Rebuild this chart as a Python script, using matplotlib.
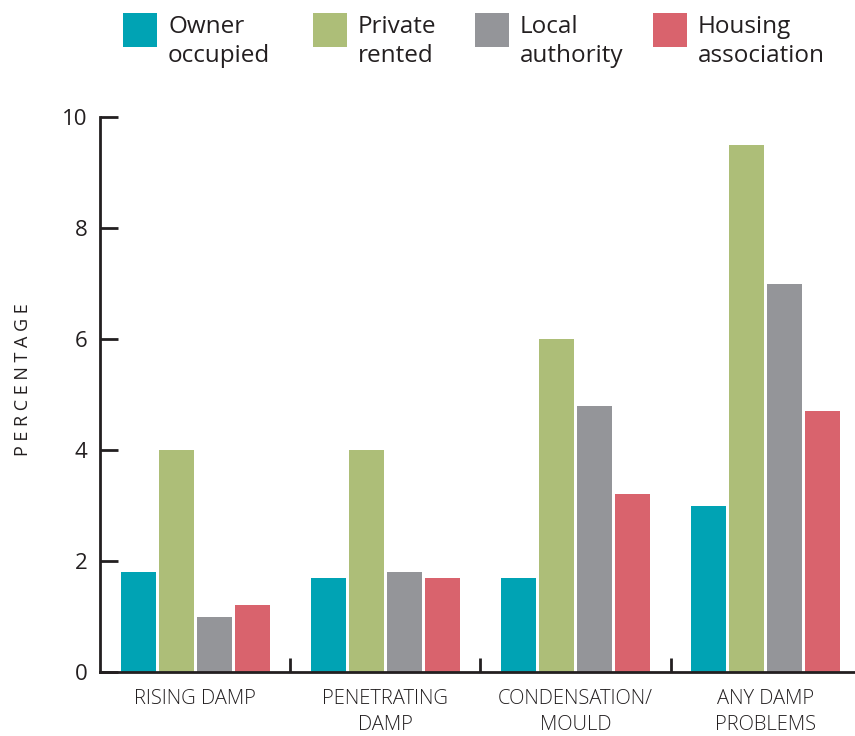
import numpy as np
import matplotlib.pyplot as plt
from matplotlib.patches import Rectangle

categories = ["RISING DAMP", "PENETRATING\nDAMP", "CONDENSATION/\nMOULD", "ANY DAMP\nPROBLEMS"]
tenures = ["Owner\noccupied", "Private\nrented", "Local\nauthority", "Housing\nassociation"]
owner_occupied = [1.8, 1.7, 1.7, 3.0]
private_rented = [4.0, 4.0, 6.0, 9.5]
local_authority = [1.0, 1.8, 4.8, 7.0]
housing_association = [1.2, 1.7, 3.2, 4.7]
y_ticks = [0, 2, 4, 6, 8, 10]

colors = ["#00a3b4", "#adbe78", "#949599", "#d9636d"]
text_color = "#231f20"

plt.rcParams['font.family'] = ['Open Sans', 'DejaVu Sans']

W, H = 855, 736
fig = plt.figure(figsize=(W / 100, H / 100), dpi=100)
ax = fig.add_axes([100 / W, 64 / H, 755 / W, 555 / H])

x = np.arange(len(categories))
step = 0.2
width = 0.184
series = [owner_occupied, private_rented, local_authority, housing_association]
for i, (vals, col) in enumerate(zip(series, colors)):
    ax.bar(x + (i - 1.5) * step, vals, width=width, color=col, zorder=2)

ax.set_xlim(-0.5, 3.47)
ax.set_ylim(0, 10)

for s in ["top", "right"]:
    ax.spines[s].set_visible(False)
for s in ["left", "bottom"]:
    ax.spines[s].set_linewidth(2)
    ax.spines[s].set_color(text_color)
    ax.spines[s].set_zorder(3)

ax.set_yticks(y_ticks)
ax.set_yticklabels([str(t) for t in y_ticks], fontsize=16, color=text_color)
ax.tick_params(axis="y", direction="in", length=13, width=2, pad=9, colors=text_color)

# group separators as inward ticks on the x axis
ax.set_xticks([0.5, 1.5, 2.5])
ax.set_xticklabels([])
ax.tick_params(axis="x", direction="in", length=10, width=2, colors=text_color)

for xi, cat in zip(x, categories):
    ax.text(xi, -0.3, cat, ha="center", va="top", fontsize=14.5, color=text_color,
            fontweight="light", linespacing=1.45)

ax.text(-0.102, 0.526, "P E R C E N T A G E", transform=ax.transAxes, rotation=90,
        ha="center", va="center", fontsize=13, color=text_color)

# legend drawn by hand so the swatches sit at the top of each two-line label
legend_x = [123, 313, 475, 653]
for lx, col, lab in zip(legend_x, colors, tenures):
    fig.add_artist(Rectangle((lx / W, 1 - 47 / H), 34 / W, 34 / H,
                             transform=fig.transFigure, facecolor=col, edgecolor="none"))
    fig.text((lx + 45) / W, 1 - 15 / H, lab, ha="left", va="top", fontsize=17.5,
             color=text_color, linespacing=1.28)

fig.savefig("out.png", dpi=100)
